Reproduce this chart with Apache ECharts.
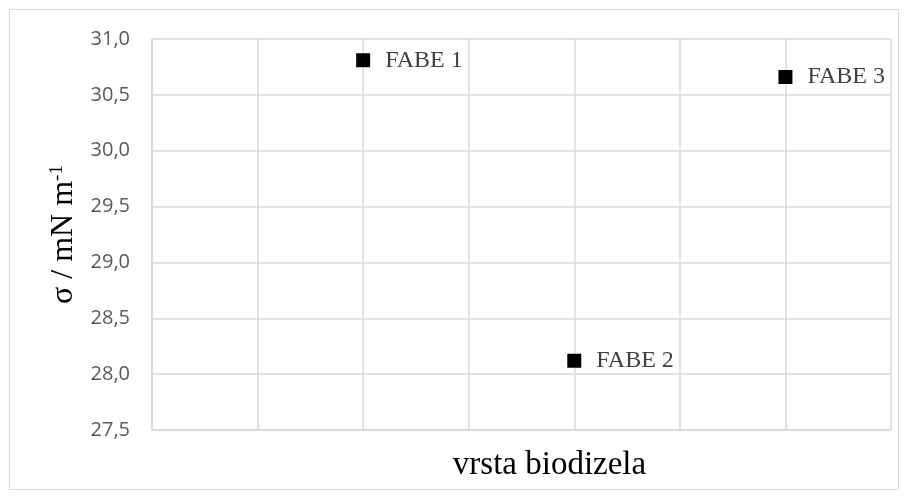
<!DOCTYPE html>
<html>
<head>
<meta charset="utf-8">
<script src="https://cdn.jsdelivr.net/npm/echarts@6/dist/echarts.min.js"></script>
<style>
  html, body { margin: 0; padding: 0; background: #fff; }
  #chart { width: 909px; height: 499px; }
</style>
</head>
<body>
<div id="chart"></div>
<script>
// samples and their surface tension (mN/m)
const names = ['FABE 1', 'FABE 2', 'FABE 3']
const xPos = [2, 4, 6]
const sigma = [30.81, 28.12, 30.66]

const chart = echarts.init(document.getElementById('chart'))

const points = names.map((n, i) => ({ name: n, value: [xPos[i], sigma[i]] }))

chart.setOption({
  animation: false,
  graphic: [
    {
      type: 'rect',
      shape: { x: 9.5, y: 9.5, width: 889, height: 480 },
      style: { fill: 'none', stroke: '#d9d9d9', lineWidth: 1 },
      silent: true
    }
  ],
  grid: { left: 152, right: 18, top: 39, bottom: 69 },
  xAxis: {
    type: 'value',
    min: 0,
    max: 7,
    interval: 1,
    name: 'vrsta biodizela',
    nameLocation: 'middle',
    nameGap: 19,
    nameTextStyle: {
      fontFamily: 'Liberation Serif',
      fontSize: 33,
      color: '#000',
      padding: [0, 0, 0, 56]
    },
    axisLine: { show: true, lineStyle: { color: '#d9d9d9', width: 1.5 } },
    axisTick: { show: false },
    axisLabel: { show: false },
    splitLine: { show: true, lineStyle: { color: '#d9d9d9', width: 1.5 } }
  },
  yAxis: {
    type: 'value',
    min: 27.5,
    max: 31,
    interval: 0.5,
    name: 'σ / mN m{sup|-1}',
    nameLocation: 'middle',
    nameGap: 72,
    nameRotate: 90,
    nameTextStyle: {
      fontFamily: 'Liberation Serif',
      fontSize: 32,
      color: '#000',
      rich: {
        sup: {
          fontFamily: 'Liberation Serif',
          fontSize: 19,
          color: '#000',
          verticalAlign: 'top',
          padding: [0, 0, 12, 0]
        }
      }
    },
    axisLine: { show: true, lineStyle: { color: '#d9d9d9', width: 1.5 } },
    axisTick: { show: false },
    axisLabel: {
      margin: 22,
      fontFamily: 'Open Sans',
      fontSize: 20,
      color: '#595959',
      formatter: v => v.toFixed(1).replace('.', ',')
    },
    splitLine: { show: true, lineStyle: { color: '#d9d9d9', width: 1.5 } }
  },
  series: [
    {
      type: 'scatter',
      symbol: 'rect',
      symbolSize: 14,
      itemStyle: { color: '#000', opacity: 1 },
      data: points,
      label: {
        show: true,
        position: 'right',
        distance: 15,
        formatter: '{b}',
        fontFamily: 'Liberation Serif',
        fontSize: 24,
        color: '#404040'
      }
    }
  ]
})
</script>
</body>
</html>
